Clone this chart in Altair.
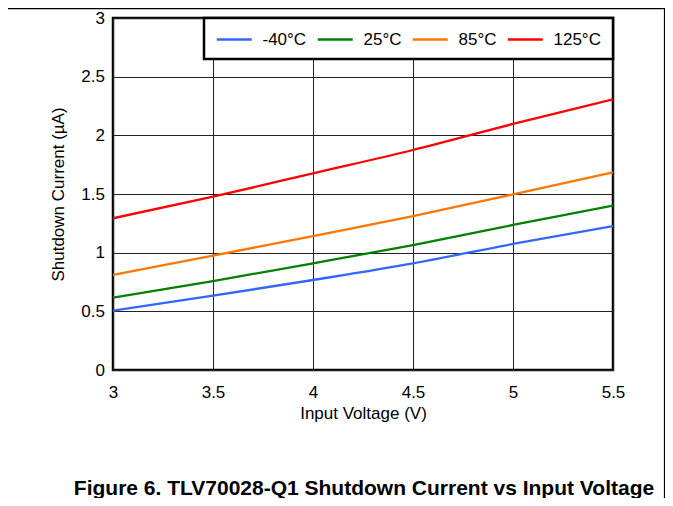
import altair as alt
import pandas as pd

voltage = [3.0, 3.5, 4.0, 4.5, 5.0, 5.5]
series = ["-40°C", "25°C", "85°C", "125°C"]
current_m40 = [0.506, 0.633, 0.767, 0.909, 1.074, 1.227]
current_25 = [0.616, 0.758, 0.909, 1.065, 1.236, 1.401]
current_85 = [0.810, 0.974, 1.142, 1.312, 1.497, 1.685]
current_125 = [1.293, 1.477, 1.676, 1.875, 2.097, 2.307]
colors = ["#3366FF", "#008000", "#FF7700", "#FF0000"]
x_ticks = [3, 3.5, 4, 4.5, 5, 5.5]
y_ticks = [0, 0.5, 1, 1.5, 2, 2.5, 3]
caption = ["Figure 6. TLV70028-Q1 Shutdown Current vs Input Voltage"]

rows = []
for name, vals in zip(series, [current_m40, current_25, current_85, current_125]):
    for v, c in zip(voltage, vals):
        rows.append({"V": v, "I": c, "T": name})
df = pd.DataFrame(rows)

FONT = "Liberation Sans"
FS = 17

lines = alt.Chart(df).mark_line(strokeWidth=2.3, interpolate="monotone", clip=True).encode(
    x=alt.X("V:Q", scale=alt.Scale(domain=[3, 5.5], nice=False, zero=False),
            axis=alt.Axis(values=x_ticks, title="Input Voltage (V)", format="~g",
                          ticks=False, domain=False, labelPadding=14, titlePadding=5,
                          labelFontSize=FS, titleFontSize=FS, labelFont=FONT, titleFont=FONT,
                          labelColor="black", titleColor="black", titleFontWeight="normal",
                          gridColor="#222222", gridWidth=1, gridOpacity=1,
                          labelFlush=False)),
    y=alt.Y("I:Q", scale=alt.Scale(domain=[0, 3], nice=False),
            axis=alt.Axis(values=y_ticks, title="Shutdown Current (µA)", format="~g",
                          ticks=False, domain=False, labelPadding=8.5, titlePadding=13,
                          labelFontSize=FS, titleFontSize=FS, labelFont=FONT, titleFont=FONT,
                          labelColor="black", titleColor="black", titleFontWeight="normal",
                          gridColor="#222222", gridWidth=1, gridOpacity=1,
                          labelFlush=False)),
    color=alt.Color("T:N", sort=series,
                    scale=alt.Scale(domain=series, range=colors),
                    legend=alt.Legend(title=None, orient="top-right", direction="horizontal",
                                      symbolType="M-1,0H3", symbolSize=306, symbolStrokeWidth=2.5,
                                      labelOffset=27, columnPadding=6, padding=11.5, offset=0,
                                      labelFontSize=FS, labelFont=FONT, labelColor="black",
                                      fillColor="white", strokeColor="black")),
)

frame_df = pd.DataFrame({"a": [0]})
top_rule = alt.Chart(frame_df).mark_rule(color="black", strokeWidth=1.2).encode(
    x=alt.value(-105), x2=alt.value(552), y=alt.value(-9.4))
right_rule = alt.Chart(frame_df).mark_rule(color="black", strokeWidth=1.2).encode(
    x=alt.value(551.5), y=alt.value(-10), y2=alt.value(480))

cap_df = pd.DataFrame({"text": caption})
title_text = alt.Chart(cap_df).mark_text(
    font=FONT, fontSize=21, fontWeight="bold", color="black", align="center", baseline="middle"
).encode(text="text:N", x=alt.value(251), y=alt.value(471))

chart = alt.layer(lines, top_rule, right_rule, title_text).properties(
    width=500, height=352,
    autosize=alt.AutoSizeParams(type="none"),
    padding={"left": 105, "top": 10, "right": 52, "bottom": 128},
).configure_view(stroke="black", strokeWidth=2.5).configure_legend(strokeWidth=2.5)

chart.save("out.html", embed_options={"renderer": "svg", "actions": False})
